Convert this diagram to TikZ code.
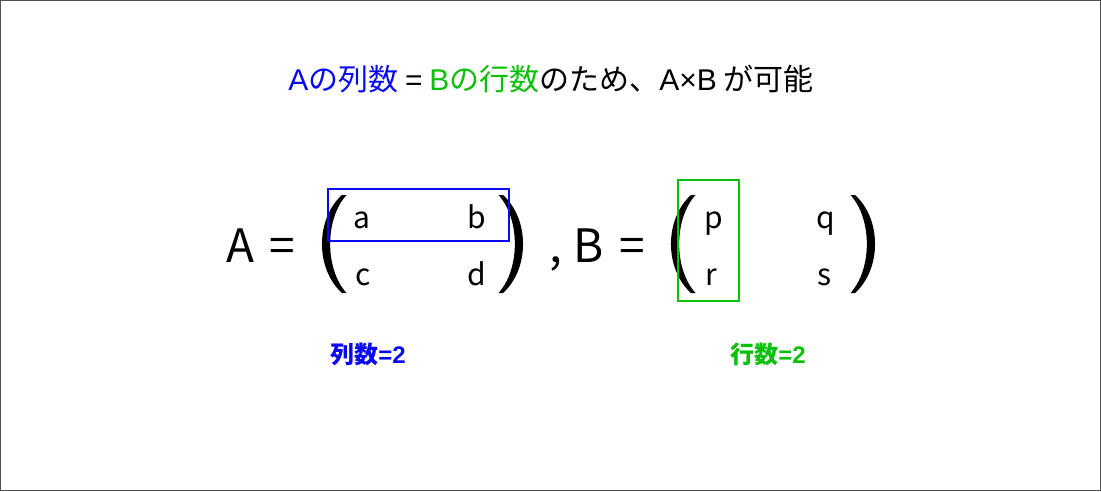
\documentclass[tikz,border=0pt]{standalone}
\usepackage{fontspec}
\setmainfont{Noto Sans CJK JP}
\newfontfamily\lat{Liberation Sans}
\definecolor{ink}{HTML}{000000}
\definecolor{rowblue}{HTML}{0A0AF0}
\definecolor{colgreen}{HTML}{0AC00A}
\definecolor{frame}{HTML}{505050}

\begin{document}
\begin{tikzpicture}[x=1pt,y=-1pt,inner sep=0pt,outer sep=0pt]
\tikzset{
  title/.style={font=\fontsize{30}{34}\selectfont,anchor=base},
  lhs/.style={font=\fontsize{46}{50}\selectfont,anchor=base,ink},
  entry/.style={font=\fontsize{30}{34}\selectfont,anchor=base,ink},
  count/.style={font=\fontsize{24}{28}\selectfont\bfseries,anchor=base},
  lparen/.pic={\fill[ink] (-1,-49) .. controls (-27.7,-25) and (-27.7,25) .. (-1,49)
    -- (3.5,49) .. controls (-18.3,25) and (-18.3,-25) .. (3.5,-49) -- cycle;}
}
\useasboundingbox (0,0) rectangle (1101,491);
\draw[frame,line width=1pt] (.5,.5) rectangle (1100.5,490.5);

\node[title] (head) at (551,90)
  {{\color{rowblue}{\lat A}の列数} {\lat =} {\color{colgreen}{\lat B}の行数}のため、{\lat A×B} が可能};

% matrix A
\node[lhs] (lhsA) at (240,262) {A};
\node[lhs] (eqA) at (282,262) {=};
\pic at (343,244) {lparen};
\pic[xscale=-1] at (502,244) {lparen};
\node[entry] (a) at (362,228) {a};
\node[entry] (b) at (477,228) {b};
\node[entry] (c) at (363,285) {c};
\node[entry] (d) at (477,285) {d};
\draw[rowblue,line width=2pt] (328,189) rectangle (509,241);

% matrix B
\node[lhs] (comma) at (556,262) {,};
\node[lhs] (lhsB) at (589,262) {B};
\node[lhs] (eqB) at (632,262) {=};
\pic at (692,244) {lparen};
\pic[xscale=-1] at (854,244) {lparen};
\node[entry] (p) at (714,228) {p};
\node[entry] (q) at (826,228) {q};
\node[entry] (r) at (711,285) {r};
\node[entry] (s) at (825,285) {s};
\draw[colgreen,line width=2pt] (678,180) rectangle (739,301);

\node[count,rowblue] (colsA) at (368,363) {列数{\lat =2}};
\node[count,colgreen] (rowsB) at (768,363) {行数{\lat =2}};
\end{tikzpicture}
\end{document}
